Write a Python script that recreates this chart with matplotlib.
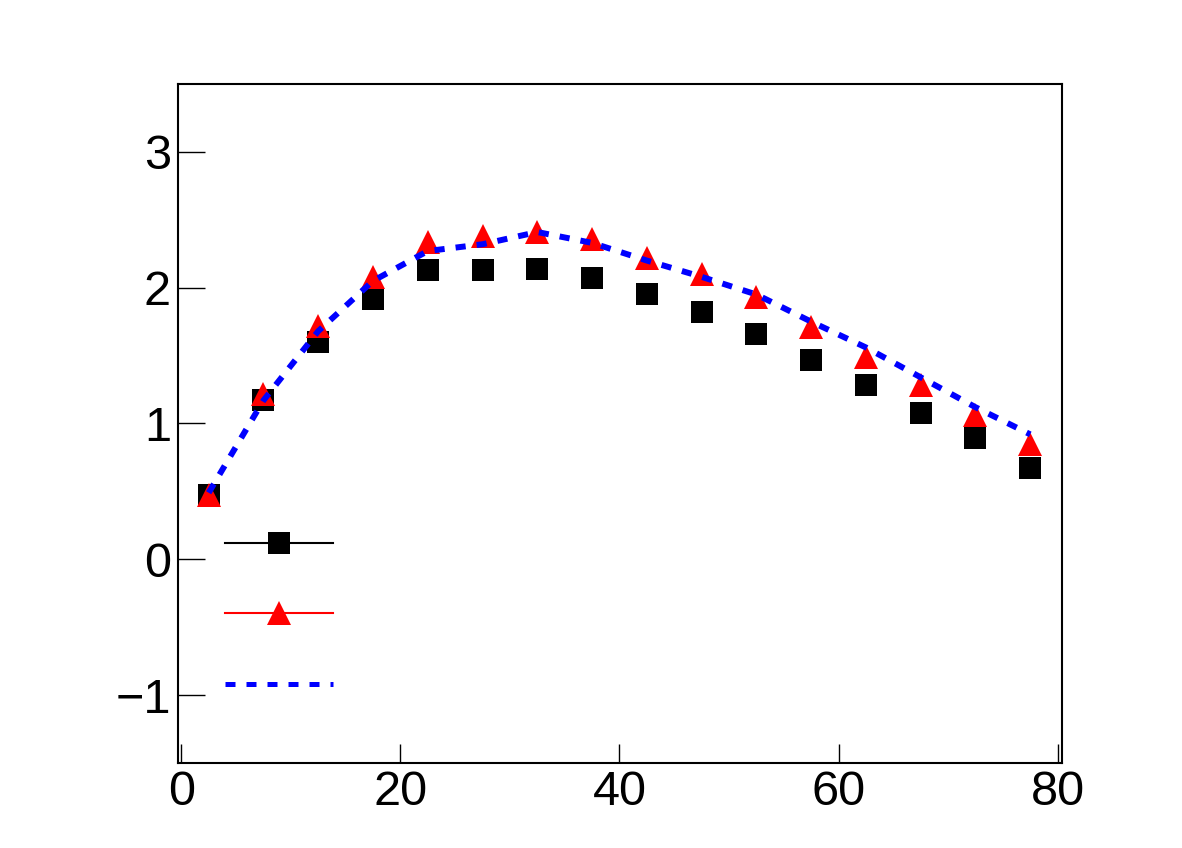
import matplotlib
matplotlib.use("Agg")
import matplotlib.pyplot as plt
from matplotlib.lines import Line2D

plt.rcParams['font.family'] = ['Liberation Sans', 'DejaVu Sans']

x = [2.5, 7.5, 12.5, 17.5, 22.5, 27.5, 32.5, 37.5, 42.5, 47.5, 52.5, 57.5, 62.5, 67.5, 72.5, 77.5]
black_sq = [0.47, 1.17, 1.60, 1.92, 2.13, 2.13, 2.14, 2.07, 1.95, 1.82, 1.66, 1.47, 1.28, 1.08, 0.89, 0.67]
red_tri = [0.47, 1.22, 1.72, 2.08, 2.34, 2.38, 2.41, 2.36, 2.22, 2.10, 1.93, 1.71, 1.49, 1.28, 1.06, 0.85]
blue_line = [0.49, 1.17, 1.68, 2.05, 2.27, 2.32, 2.41, 2.33, 2.20, 2.08, 1.95, 1.75, 1.56, 1.34, 1.12, 0.92]

xticks = [0, 20, 40, 60, 80]
yticks = [-1, 0, 1, 2, 3]

fig = plt.figure(figsize=(11.82, 8.48), dpi=100)
ax = fig.add_axes([178/1182, 1-763/848, (1062-178)/1182, (763-84)/848])

ms = 16.5
ax.plot(x, black_sq, ls='none', marker='s', ms=ms, mew=0, color='black', zorder=3)
ax.plot(x, red_tri, ls='none', marker='^', ms=ms+0.5, mew=0, color='red', zorder=4)
ax.plot(x, blue_line, color='blue', lw=4.3, ls=(0, (1.7, 1.85)), dash_capstyle='butt', zorder=5)

ax.set_xlim(-0.3, 80.4)
ax.set_ylim(-1.5, 3.5)
ax.set_xticks(xticks)
ax.set_yticks(yticks)
ax.tick_params(axis='both', which='major', direction='in', labelsize=35, width=1.0)
ax.tick_params(axis='x', length=13.4, pad=5, top=False)
ax.tick_params(axis='y', length=19.4, pad=5, right=False)
for s in ax.spines.values():
    s.set_linewidth(1.5)

handles = [
    Line2D([], [], color='black', lw=1.5, marker='s', ms=ms, mew=0),
    Line2D([], [], color='red', lw=1.5, marker='^', ms=ms + 0.5, mew=0),
    Line2D([], [], color='blue', lw=3.6, ls=(0, (2.0, 2.2)), dash_capstyle='butt'),
]
leg = ax.legend(handles, ['', '', ''], loc='upper left',
                bbox_to_anchor=((225-178)/884, (763-528)/679),
                frameon=False, fontsize=20, handlelength=3.89, handleheight=2.0,
                labelspacing=0.985, borderpad=0, borderaxespad=0, handletextpad=0,
                numpoints=1)

fig.savefig('out.png', dpi=100)
